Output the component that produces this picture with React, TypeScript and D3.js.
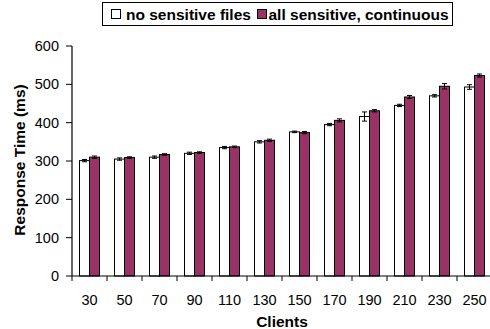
import { useEffect, useRef } from 'react'
import * as d3 from 'd3'

const clients = ['30', '50', '70', '90', '110', '130', '150', '170', '190', '210', '230', '250']
const noSensitive = [301, 305, 310, 320, 335, 350, 376, 395, 416, 445, 470, 493]
const noSensitiveErr = [3, 3, 3, 3, 3, 3, 2, 3, 12, 3, 3, 6]
const allSensitive = [310, 309, 317, 322, 337, 354, 374, 406, 431, 467, 495, 523]
const allSensitiveErr = [3, 2, 2, 2, 2, 3, 3, 4, 3, 4, 7, 4]
const yTicks = [0, 100, 200, 300, 400, 500, 600]

const PURPLE = '#993366'
const FONT = '"Liberation Sans", Arial, Helvetica, sans-serif'

export default function App() {
  const svgRef = useRef<SVGSVGElement>(null)

  useEffect(() => {
    if (!svgRef.current) return
    const svg = d3.select(svgRef.current)
    svg.selectAll('*').remove()

    const left = 72
    const right = 492
    const top = 46
    const bottom = 276

    const x = d3.scaleBand().domain(clients).range([left, right])
    const y = d3.scaleLinear().domain([0, 600]).range([bottom, top])
    const barW = 10

    const series = [
      { name: 'no sensitive files', values: noSensitive, errs: noSensitiveErr, fill: '#ffffff', offset: -barW },
      { name: 'all sensitive, continuous', values: allSensitive, errs: allSensitiveErr, fill: PURPLE, offset: 0 },
    ]

    // bars
    series.forEach(s => {
      const g = svg.append('g')
      clients.forEach((c, i) => {
        const cx = (x(c) as number) + x.bandwidth() / 2 + s.offset
        g.append('rect')
          .attr('x', cx)
          .attr('y', y(s.values[i]))
          .attr('width', barW)
          .attr('height', y(0) - y(s.values[i]))
          .attr('fill', s.fill)
          .attr('stroke', '#000')
          .attr('stroke-width', 1)
        // error bar
        const ex = cx + barW / 2
        const y1 = y(s.values[i] + s.errs[i])
        const y2 = y(s.values[i] - s.errs[i])
        g.append('line').attr('x1', ex).attr('x2', ex).attr('y1', y1).attr('y2', y2)
          .attr('stroke', '#000').attr('stroke-width', 1)
        ;[y1, y2].forEach(yy => {
          g.append('line').attr('x1', ex - 2.5).attr('x2', ex + 2.5).attr('y1', yy).attr('y2', yy)
            .attr('stroke', '#000').attr('stroke-width', 1)
        })
      })
    })

    // y axis
    const yAxis = svg.append('g')
    yAxis.append('line').attr('x1', left).attr('x2', left).attr('y1', top).attr('y2', bottom)
      .attr('stroke', '#000').attr('stroke-width', 1.2)
    yTicks.forEach(t => {
      yAxis.append('line').attr('x1', left - 6).attr('x2', left).attr('y1', y(t)).attr('y2', y(t))
        .attr('stroke', '#000').attr('stroke-width', 1)
      yAxis.append('text')
        .attr('x', left - 13)
        .attr('y', y(t))
        .attr('dy', '0.35em')
        .attr('text-anchor', 'end')
        .attr('font-family', FONT)
        .attr('font-size', 14.5)
        .text(t)
    })

    // x axis
    const xAxis = svg.append('g')
    xAxis.append('line').attr('x1', left).attr('x2', right).attr('y1', bottom).attr('y2', bottom)
      .attr('stroke', '#000').attr('stroke-width', 1.2)
    clients.forEach(c => {
      const bx = x(c) as number
      xAxis.append('line').attr('x1', bx).attr('x2', bx).attr('y1', bottom).attr('y2', bottom + 5)
        .attr('stroke', '#000').attr('stroke-width', 1)
      xAxis.append('text')
        .attr('x', bx + x.bandwidth() / 2)
        .attr('y', 305)
        .attr('text-anchor', 'middle')
        .attr('font-family', FONT)
        .attr('font-size', 14.5)
        .text(c)
    })

    // axis titles
    svg.append('text')
      .attr('x', 282)
      .attr('y', 327)
      .attr('text-anchor', 'middle')
      .attr('font-family', FONT)
      .attr('font-size', 15.5)
      .attr('font-weight', 'bold')
      .text('Clients')

    svg.append('text')
      .attr('transform', `translate(24.5, 160) rotate(-90)`)
      .attr('text-anchor', 'middle')
      .attr('font-family', FONT)
      .attr('font-size', 15.5)
      .attr('font-weight', 'bold')
      .text('Response Time (ms)')

    // legend
    const legend = svg.append('g')
    legend.append('rect')
      .attr('x', 102.5).attr('y', 2.5).attr('width', 350).attr('height', 23)
      .attr('fill', '#fff').attr('stroke', '#000').attr('stroke-width', 1)
    const items = [
      { label: series[0].name, fill: series[0].fill, sx: 111.5, tx: 126 },
      { label: series[1].name, fill: series[1].fill, sx: 257.5, tx: 268.5 },
    ]
    items.forEach(it => {
      legend.append('rect')
        .attr('x', it.sx).attr('y', 9.5).attr('width', 9).attr('height', 9)
        .attr('fill', it.fill).attr('stroke', '#000').attr('stroke-width', 1)
      legend.append('text')
        .attr('x', it.tx)
        .attr('y', 19.5)
        .attr('font-family', FONT)
        .attr('font-size', 15.5)
        .attr('font-weight', 'bold')
        .text(it.label)
    })
  }, [])

  return (
    <svg
      ref={svgRef}
      width={490}
      height={329}
      style={{ position: 'absolute', left: 0, top: 0, background: '#fff' }}
    />
  )
}
